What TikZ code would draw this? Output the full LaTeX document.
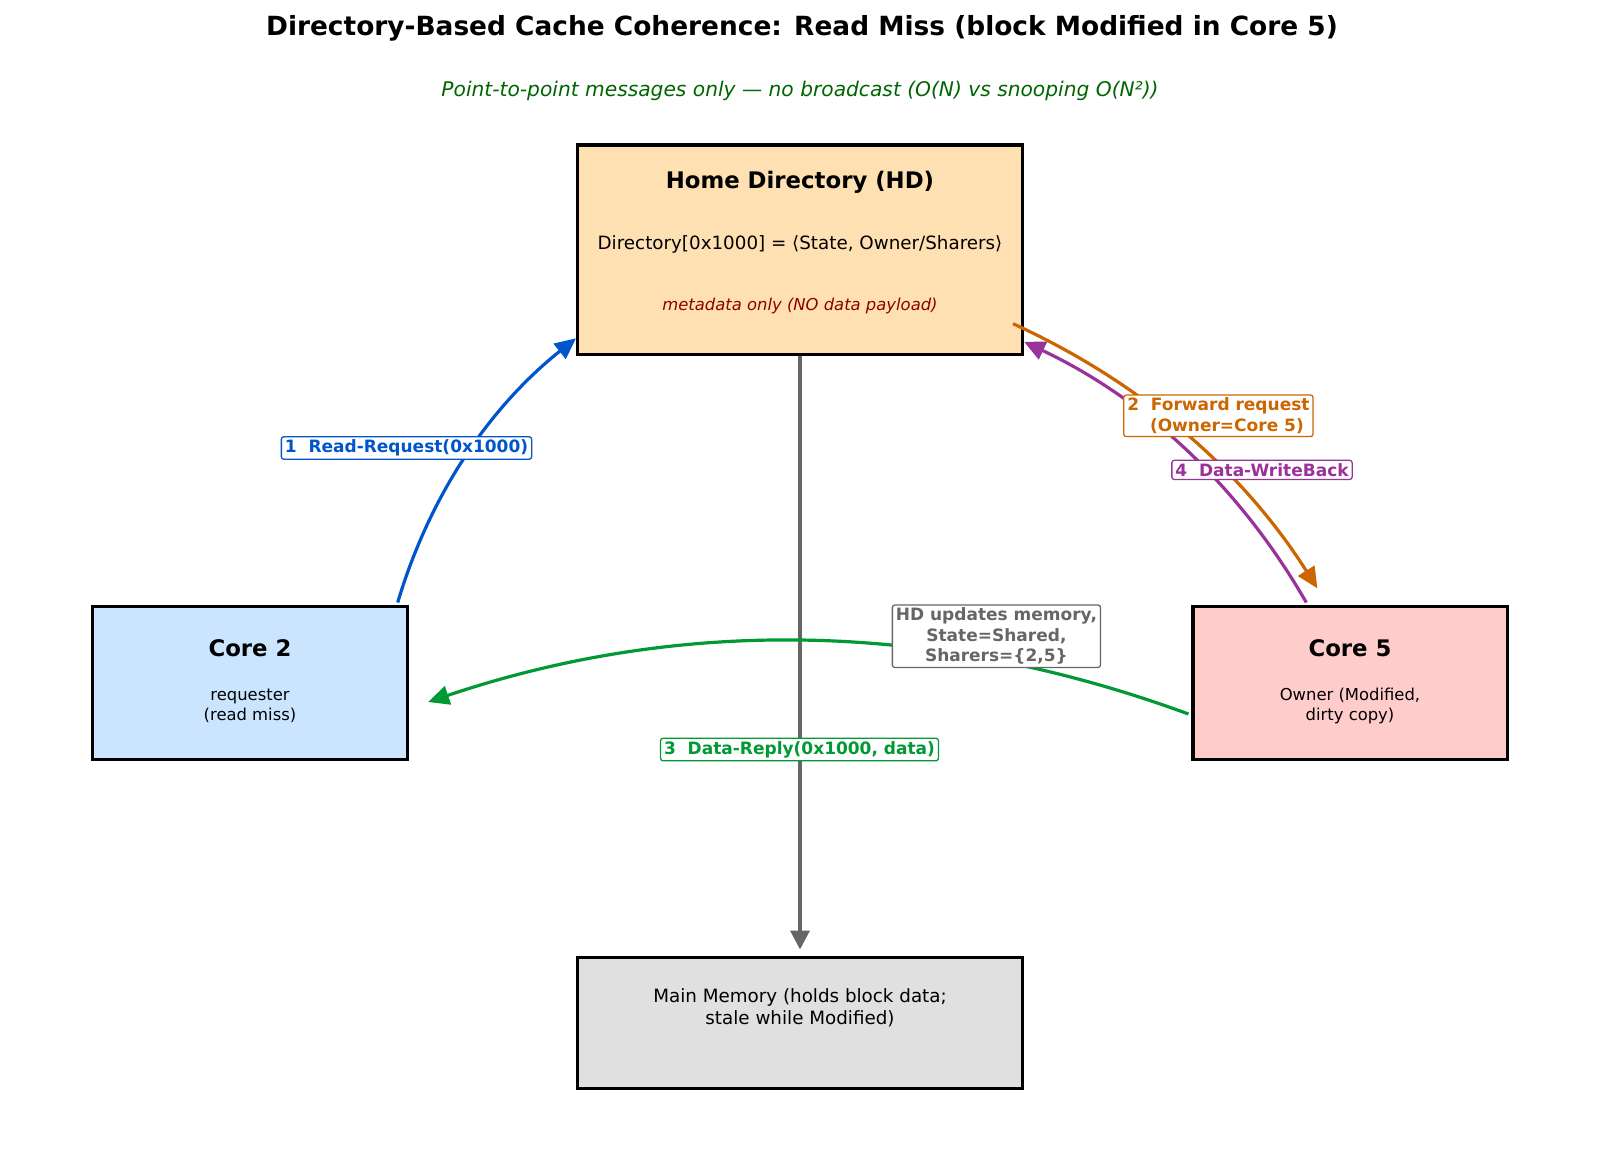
\documentclass[tikz,border=0pt]{standalone}
\usepackage{fontspec}
\setmainfont{DejaVu Sans}
\usetikzlibrary{arrows.meta,calc}
\definecolor{cblue}{HTML}{0055CC}
\definecolor{corange}{HTML}{CC6600}
\definecolor{cpurple}{HTML}{993399}
\definecolor{cgreen}{HTML}{009933}
\definecolor{cgray}{HTML}{666666}
\definecolor{subgreen}{HTML}{006400}
\definecolor{metared}{HTML}{8B0000}
\definecolor{hdfill}{HTML}{FFE0B2}
\definecolor{cIIfill}{HTML}{CCE5FF}
\definecolor{cVfill}{HTML}{FFCCCC}
\definecolor{memfill}{HTML}{E0E0E0}
\newcommand\fsz[2]{\fontsize{#1bp}{#2bp}\selectfont}
\begin{document}
\begin{tikzpicture}[x=1bp,y=-1bp,
  box/.style={draw=black, line width=3.2bp, rectangle, inner sep=0pt},
  lbl/.style={draw, rounded corners=2.5bp, fill=white, line width=1.3bp, inner xsep=3.5bp, inner ysep=3bp, font=\fsz{17}{20.4}\bfseries, align=center},
  arr/.style={line width=3.2bp, -{Triangle[length=21bp,width=19bp]}},
  txt/.style={inner sep=0pt, align=center}
]
\useasboundingbox (0,0) rectangle (1600,1159);

% title
\node[txt, font=\fsz{26.4}{31}\bfseries] (title) at (802,28.5) {Directory-Based Cache Coherence: Read Miss (block Modified in Core 5)};
\node[txt, font=\fsz{20.2}{24}\itshape, text=subgreen] (subtitle) at (800,90.8) {Point-to-point messages only — no broadcast (O(N) vs snooping O(N²))};

% boxes
\node[box, fill=hdfill, minimum width=444.8bp, minimum height=209.2bp] (hd) at (800,249.5) {};
\node[box, fill=cIIfill, minimum width=314.2bp, minimum height=153.1bp] (core2) at (250,682.65) {};
\node[box, fill=cVfill, minimum width=314.2bp, minimum height=153.1bp] (core5) at (1350,682.65) {};
\node[box, fill=memfill, minimum width=444.8bp, minimum height=131.7bp] (mem) at (800,1022.95) {};

% box texts
\node[txt, font=\fsz{22.8}{27}\bfseries] (hdtitle) at (800,182.6) {Home Directory (HD)};
\node[txt, font=\fsz{18.3}{22}] (hdline) at (800,244.9) {Directory[0x1000] = ⟨State, Owner/Sharers⟩};
\node[txt, font=\fsz{16.4}{20}\itshape, text=metared] (hdmeta) at (800,306) {metadata only (NO data payload)};

\node[txt, font=\fsz{22.8}{27}\bfseries] (c2title) at (250,648) {Core 2};
\node[txt, font=\fsz{16.4}{20}] (c2text) at (250,706) {requester\\(read miss)};
\node[txt, font=\fsz{22.8}{27}\bfseries] (c5title) at (1350,648) {Core 5};
\node[txt, font=\fsz{16.4}{20}] (c5text) at (1350,706) {Owner (Modified,\\dirty copy)};
\node[txt, font=\fsz{18.3}{21.5}] (memtext) at (800,1007.5) {Main Memory (holds block data;\\stale while Modified)};

% connector end points
\coordinate (b0) at ($(core2.north east)+(-11,-2)$);
\coordinate (b2) at ($(hd.south west)+(0,-17.4)$);
\coordinate (bq) at (445.4,442.3);
\coordinate (o0) at ($(hd.south east)+(-11,-32)$);
\coordinate (o2) at ($(core5.north west)+(126.1,-16.1)$);
\coordinate (oq) at (1205.4,411.5);
\coordinate (p0) at ($(core5.north west)+(115,-2)$);
\coordinate (p2) at ($(hd.south east)+(0,-14)$);
\coordinate (pq) at (1205.9,427.9);
\coordinate (g0) at ($(core5.west)+(-2.9,31.35)$);
\coordinate (g2) at ($(core2.east)+(19.4,19.35)$);
\coordinate (gq) at (808,574);
\coordinate (m2) at ($(mem.north)+(0,-6)$);

% connectors
\draw[arr, cgray, line width=3.6bp, -{Triangle[length=19bp,width=19bp]}] (hd.south) -- (m2);
\draw[arr, cblue] (b0) .. controls ($(b0)!0.6667!(bq)$) and ($(b2)!0.6667!(bq)$) .. (b2);
\draw[arr, corange] (o0) .. controls ($(o0)!0.6667!(oq)$) and ($(o2)!0.6667!(oq)$) .. (o2);
\draw[arr, cpurple] (p0) .. controls ($(p0)!0.6667!(pq)$) and ($(p2)!0.6667!(pq)$) .. (p2);
\draw[arr, cgreen] (g0) .. controls ($(g0)!0.6667!(gq)$) and ($(g2)!0.6667!(gq)$) .. (g2);

% labels
\node[lbl, draw=cblue, text=cblue] (l1) at (406.5,448) {1\ \ Read-Request(0x1000)};
\node[lbl, draw=corange, text=corange] (l2) at (1218.4,415.8) {2\ \ Forward request\\\hspace*{17bp}(Owner=Core 5)};
\node[lbl, draw=cpurple, text=cpurple] (l4) at (1262,469.9) {4\ \ Data-WriteBack};
\node[lbl, draw=cgreen, text=cgreen] (l3) at (799.5,749.5) {3\ \ Data-Reply(0x1000, data)};
\node[lbl, draw=cgray, text=cgray] (lhd) at (996.4,636.2) {HD updates memory,\\State=Shared,\\Sharers=\{2,5\}};
\end{tikzpicture}
\end{document}
